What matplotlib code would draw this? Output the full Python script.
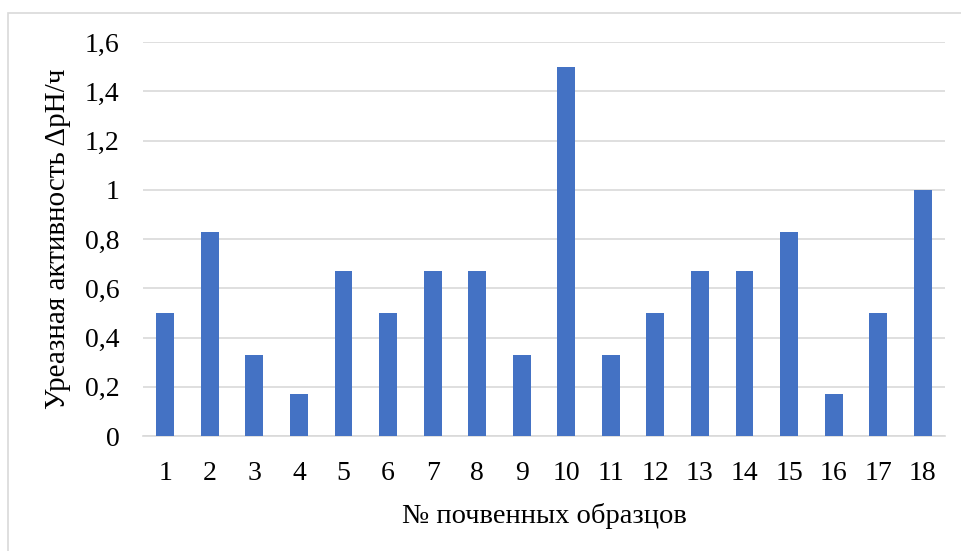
import matplotlib
matplotlib.use("Agg")
import matplotlib.pyplot as plt
from matplotlib.patches import Rectangle

categories = [str(i) for i in range(1, 19)]
values = [0.5, 0.83, 0.33, 0.17, 0.67, 0.5, 0.67, 0.67, 0.33, 1.5,
          0.33, 0.5, 0.67, 0.67, 0.83, 0.17, 0.5, 1.0]
yticks = [0, 0.2, 0.4, 0.6, 0.8, 1.0, 1.2, 1.4, 1.6]
ytick_labels = ["0", "0,2", "0,4", "0,6", "0,8", "1", "1,2", "1,4", "1,6"]

plt.rcParams['font.family'] = ['Liberation Serif', 'DejaVu Serif']

fig = plt.figure(figsize=(9.61, 5.51), dpi=100)
fig.patches.append(Rectangle((8/961, -0.1), 1.2, 1 - 13/551 + 0.1, transform=fig.transFigure,
                             fill=False, edgecolor='#D9D9D9', linewidth=1.2))
ax = fig.add_axes([143/961, 1 - 436/551, (945 - 143)/961, (436 - 42)/551])

x = list(range(len(categories)))
ax.bar(x, values, width=0.4, color='#4472C4', zorder=3)
ax.set_xlim(-0.5, len(categories) - 0.5)
ax.set_ylim(0, 1.6)
ax.set_yticks(yticks)
ax.set_yticklabels(ytick_labels)
ax.set_xticks(x)
ax.set_xticklabels(categories)
ax.grid(axis='y', color='#D9D9D9', linewidth=1.2, zorder=0)
for s in ['top', 'right', 'left']:
    ax.spines[s].set_visible(False)
ax.spines['bottom'].set_color('#D9D9D9')
ax.spines['bottom'].set_linewidth(1.2)
ax.tick_params(axis='both', length=0, labelsize=20, colors='black')
ax.tick_params(axis='x', pad=18)
ax.tick_params(axis='y', pad=17)
ax.set_xlabel("№ почвенных образцов", fontsize=20.5, labelpad=12)
ax.set_ylabel("Уреазная активность ΔрН/ч", fontsize=21, labelpad=10)

fig.savefig("out.png", dpi=100)
